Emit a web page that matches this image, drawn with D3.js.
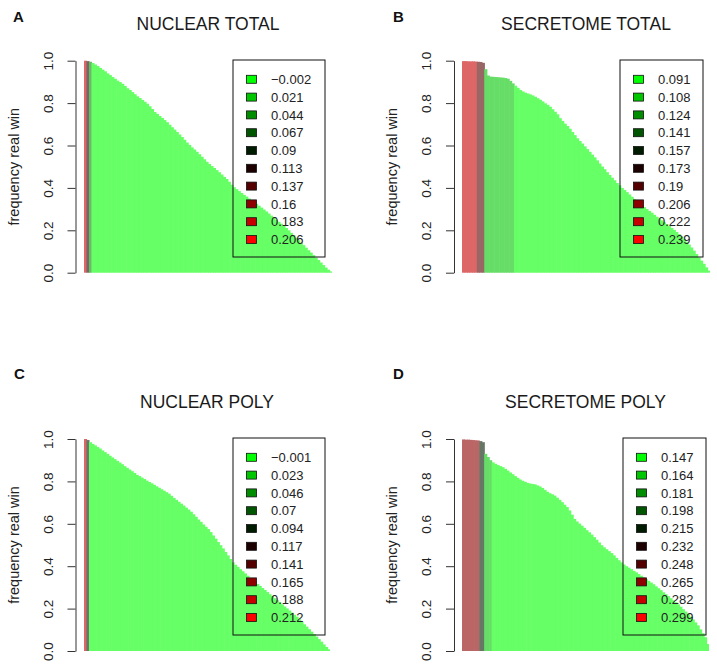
<!DOCTYPE html>
<html><head><meta charset="utf-8">
<script src="https://cdn.jsdelivr.net/npm/d3@7"></script>
<style>
body{margin:0;background:#fff;}
svg{display:block;font-family:"Liberation Sans",Arial,Helvetica,sans-serif;}
</style>
</head><body>
<svg id="chart" width="717" height="669"></svg>
<script>
// ---------- data ----------
const yTicks = [0, 0.2, 0.4, 0.6, 0.8, 1.0];
const legendColors = ["#00FF00","#00C600","#008E00","#005500","#001C00","#1C0000","#550000","#8E0000","#C60000","#FF0000"];

const nuclearTotalLegend   = ["\u22120.002","0.021","0.044","0.067","0.09","0.113","0.137","0.16","0.183","0.206"];
const secretomeTotalLegend = ["0.091","0.108","0.124","0.141","0.157","0.173","0.19","0.206","0.222","0.239"];
const nuclearPolyLegend    = ["\u22120.001","0.023","0.046","0.07","0.094","0.117","0.141","0.165","0.188","0.212"];
const secretomePolyLegend  = ["0.147","0.164","0.181","0.198","0.215","0.232","0.248","0.265","0.282","0.299"];

// frequency real win, one value per bar (sorted)
const nuclearTotalFreq = [
1.0,0.998,0.995,0.989,0.982,0.975,0.966,0.958,0.950,0.940,
0.932,0.923,0.915,0.906,0.899,0.891,0.881,0.870,0.862,0.852,
0.842,0.832,0.824,0.815,0.806,0.797,0.785,0.772,0.758,0.749,
0.739,0.730,0.720,0.710,0.698,0.686,0.675,0.664,0.652,0.640,
0.627,0.614,0.603,0.591,0.581,0.570,0.559,0.547,0.535,0.523,
0.513,0.503,0.494,0.484,0.474,0.463,0.452,0.442,0.429,0.415,
0.403,0.394,0.385,0.376,0.367,0.359,0.350,0.341,0.333,0.325,
0.316,0.307,0.298,0.289,0.279,0.269,0.259,0.250,0.240,0.231,
0.221,0.211,0.200,0.188,0.177,0.165,0.153,0.141,0.130,0.118,
0.106,0.095,0.083,0.071,0.060,0.048,0.036,0.024,0.014,0.006];

const secretomeTotalFreq = [
0.998,0.998,0.997,0.997,0.997,0.996,0.995,0.994,0.990,0.960,
0.930,0.925,0.924,0.923,0.922,0.921,0.920,0.918,0.915,0.905,
0.893,0.882,0.872,0.862,0.855,0.849,0.845,0.841,0.836,0.830,
0.823,0.816,0.808,0.799,0.792,0.783,0.771,0.759,0.747,0.729,
0.716,0.703,0.692,0.679,0.664,0.649,0.634,0.621,0.609,0.596,
0.583,0.570,0.557,0.544,0.530,0.515,0.501,0.488,0.474,0.461,
0.448,0.436,0.423,0.412,0.400,0.390,0.380,0.369,0.358,0.346,
0.336,0.327,0.318,0.309,0.300,0.291,0.283,0.273,0.264,0.256,
0.247,0.238,0.229,0.220,0.211,0.202,0.192,0.182,0.170,0.158,
0.146,0.133,0.119,0.104,0.088,0.072,0.057,0.042,0.025,0.010];

const nuclearPolyFreq = [
1.0,0.995,0.985,0.977,0.970,0.962,0.955,0.946,0.938,0.930,
0.921,0.913,0.905,0.897,0.889,0.881,0.872,0.864,0.856,0.848,
0.840,0.831,0.825,0.818,0.811,0.804,0.797,0.791,0.784,0.777,
0.770,0.763,0.756,0.749,0.742,0.732,0.722,0.713,0.704,0.695,
0.686,0.676,0.667,0.657,0.645,0.633,0.620,0.609,0.597,0.586,
0.575,0.561,0.545,0.530,0.514,0.499,0.484,0.467,0.451,0.434,
0.418,0.407,0.397,0.386,0.376,0.366,0.355,0.345,0.336,0.326,
0.316,0.307,0.297,0.288,0.278,0.268,0.259,0.249,0.240,0.230,
0.220,0.210,0.201,0.191,0.181,0.171,0.162,0.150,0.138,0.126,
0.115,0.103,0.091,0.080,0.068,0.056,0.044,0.031,0.019,0.008];

const secretomePolyFreq = [
0.998,0.997,0.997,0.996,0.995,0.994,0.993,0.990,0.985,0.930,
0.915,0.900,0.890,0.883,0.877,0.872,0.867,0.859,0.851,0.842,
0.834,0.825,0.817,0.809,0.803,0.798,0.793,0.790,0.788,0.786,
0.781,0.776,0.769,0.760,0.751,0.744,0.739,0.733,0.723,0.713,
0.702,0.690,0.679,0.663,0.643,0.623,0.611,0.601,0.591,0.581,
0.570,0.560,0.549,0.537,0.525,0.512,0.499,0.489,0.480,0.471,
0.462,0.451,0.439,0.428,0.418,0.408,0.400,0.393,0.386,0.378,
0.371,0.363,0.355,0.347,0.339,0.331,0.323,0.315,0.305,0.296,
0.287,0.277,0.268,0.259,0.249,0.239,0.230,0.220,0.209,0.197,
0.186,0.174,0.162,0.149,0.135,0.121,0.102,0.084,0.065,0.033];

// colour level of bars, as runs [legend level, number of bars]
const nuclearTotalLevelRuns   = [[8,1],[5,1],[2,1],[0,97]];
const secretomeTotalLevelRuns = [[8,6],[6,3],[1,12],[0,79]];
const nuclearPolyLevelRuns    = [[8,1],[4,1],[0,98]];
const secretomePolyLevelRuns  = [[7,7],[4,2],[1,3],[0,88]];

// ---------- layout ----------
const panels = [
  {letter:"A", title:"NUCLEAR TOTAL", freq:nuclearTotalFreq, runs:nuclearTotalLevelRuns, legend:nuclearTotalLegend,
   axisX:75.5, x0:84, x1:332, yTop:60.7, yBot:272.7, lg:{l:233,t:60,r:325,b:257}, letterX:13, letterY:21.5, titleY:30},
  {letter:"B", title:"SECRETOME TOTAL", freq:secretomeTotalFreq, runs:secretomeTotalLevelRuns, legend:secretomeTotalLegend,
   axisX:454, x0:462, x1:710, yTop:60.7, yBot:272.7, lg:{l:620,t:60,r:703,b:257}, letterX:393, letterY:21.5, titleY:30},
  {letter:"C", title:"NUCLEAR POLY", freq:nuclearPolyFreq, runs:nuclearPolyLevelRuns, legend:nuclearPolyLegend,
   axisX:75.5, x0:84, x1:330, yTop:439, yBot:651, lg:{l:233,t:438,r:325,b:635}, letterX:14, letterY:378.5, titleY:407.5},
  {letter:"D", title:"SECRETOME POLY", freq:secretomePolyFreq, runs:secretomePolyLevelRuns, legend:secretomePolyLegend,
   axisX:454, x0:462, x1:709, yTop:439, yBot:651, lg:{l:623,t:438,r:706,b:635}, letterX:393, letterY:378.5, titleY:407.5}
];

const alpha = 0.6;
const barFill = c => d3.interpolateRgb("#ffffff", c)(alpha);

const svg = d3.select("#chart");
svg.append("rect").attr("width",717).attr("height",669).attr("fill","#fff");

panels.forEach(p => {
  const g = svg.append("g");
  const levels = [];
  p.runs.forEach(([lv,n]) => { for (let k=0;k<n;k++) levels.push(lv); });
  const idx = p.freq.map((d,i)=>i);
  const x = d3.scaleBand().domain(idx).range([p.x0,p.x1]).padding(0);
  const y = d3.scaleLinear().domain([0,1]).range([p.yBot,p.yTop]);
  const last = idx.length-1;

  // bars (slight overlap so no seams between neighbouring bars)
  g.append("g").selectAll("rect").data(p.freq).join("rect")
    .attr("x",(d,i)=>x(i))
    .attr("width",(d,i)=> i===last ? x.bandwidth() : x.bandwidth()+0.6)
    .attr("y",d=>y(d))
    .attr("height",d=>y(0)-y(d))
    .attr("fill",(d,i)=>barFill(legendColors[levels[i]]));

  // y axis
  const ax = g.append("g").attr("transform",`translate(${p.axisX},0)`)
    .call(d3.axisLeft(y).tickValues(yTicks).tickSize(8).tickSizeOuter(0).tickFormat(d3.format(".1f")));
  ax.select(".domain").attr("stroke","#333");
  ax.selectAll(".tick line").attr("stroke","#333");
  ax.selectAll(".tick text")
    .attr("x",null).attr("dy",null)
    .attr("text-anchor","middle")
    .attr("transform","translate(-23,0) rotate(-90)")
    .attr("font-size","13.5px")
    .attr("font-family","'Liberation Sans',Arial,sans-serif")
    .attr("fill","#222");

  // y label
  g.append("text")
    .attr("transform",`translate(${p.axisX-57},${(p.yTop+p.yBot)/2}) rotate(-90)`)
    .attr("text-anchor","middle").attr("font-size","14.5px").attr("fill","#222")
    .text("frequency real win");

  // title
  g.append("text").attr("x",(p.x0+p.x1)/2).attr("y",p.titleY)
    .attr("text-anchor","middle").attr("font-size","17.5px").attr("fill","#1a1a1a")
    .text(p.title);

  // panel letter
  g.append("text").attr("x",p.letterX).attr("y",p.letterY)
    .attr("font-size","15px").attr("font-weight","bold").attr("fill","#111")
    .text(p.letter);

  // legend
  const lg = g.append("g");
  lg.append("rect").attr("x",p.lg.l).attr("y",p.lg.t)
    .attr("width",p.lg.r-p.lg.l).attr("height",p.lg.b-p.lg.t)
    .attr("fill","none").attr("stroke","#111").attr("stroke-width",1);
  const rowY = i => p.lg.t + 19.3 + i*17.8;
  lg.selectAll("rect.sw").data(p.legend).join("rect").attr("class","sw")
    .attr("x",p.lg.l+13.5).attr("y",(d,i)=>rowY(i)-4)
    .attr("width",10).attr("height",8)
    .attr("fill",(d,i)=>legendColors[i]).attr("stroke","#111").attr("stroke-width",0.8);
  lg.selectAll("text").data(p.legend).join("text")
    .attr("x",p.lg.l+38).attr("y",(d,i)=>rowY(i)).attr("dy","0.36em")
    .attr("font-size","13px").attr("fill","#222")
    .text(d=>d);
});
</script>
</body></html>
